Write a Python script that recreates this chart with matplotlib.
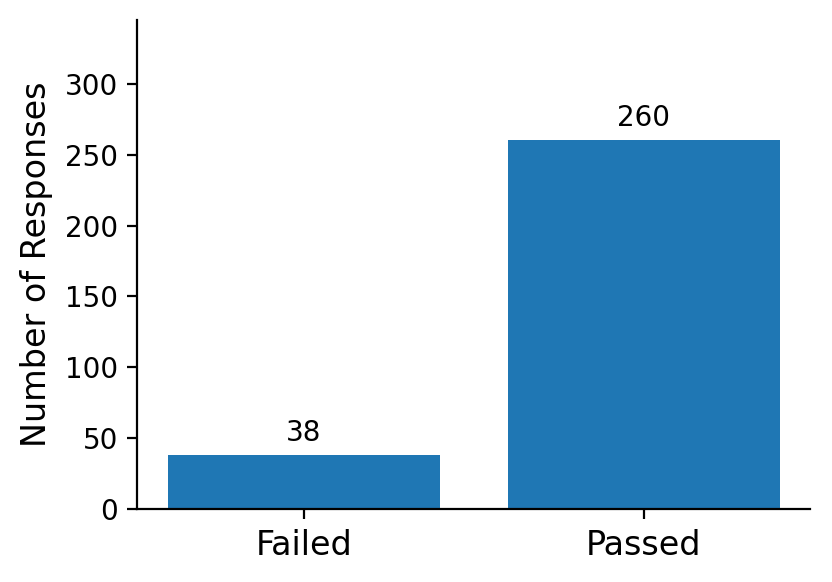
import numpy as np
import matplotlib
matplotlib.use("Agg")
import matplotlib.pyplot as plt

# ========= data =========
categories = ["Failed", "Passed"]
counts = [38, 260]

fig = plt.figure(figsize=(4.16, 2.91), dpi=200)
ax = fig.add_axes([0.165, 0.125, 0.809, 0.841])

x = np.arange(len(categories))
bars = ax.bar(x, counts, width=0.8, color="#1f77b4")

for b, v in zip(bars, counts):
    ax.annotate(str(v), xy=(b.get_x() + b.get_width() / 2, v),
                xytext=(0, 3), textcoords="offset points",
                ha="center", va="bottom", fontsize=10)

ax.set_xticks(x)
ax.set_xticklabels(categories, fontsize=12)
ax.tick_params(axis="y", labelsize=10)
ax.set_ylabel("Number of Responses", fontsize=12)
ax.set_ylim(0, 345)
ax.spines["top"].set_visible(False)
ax.spines["right"].set_visible(False)

fig.savefig("out.png", dpi=200)
